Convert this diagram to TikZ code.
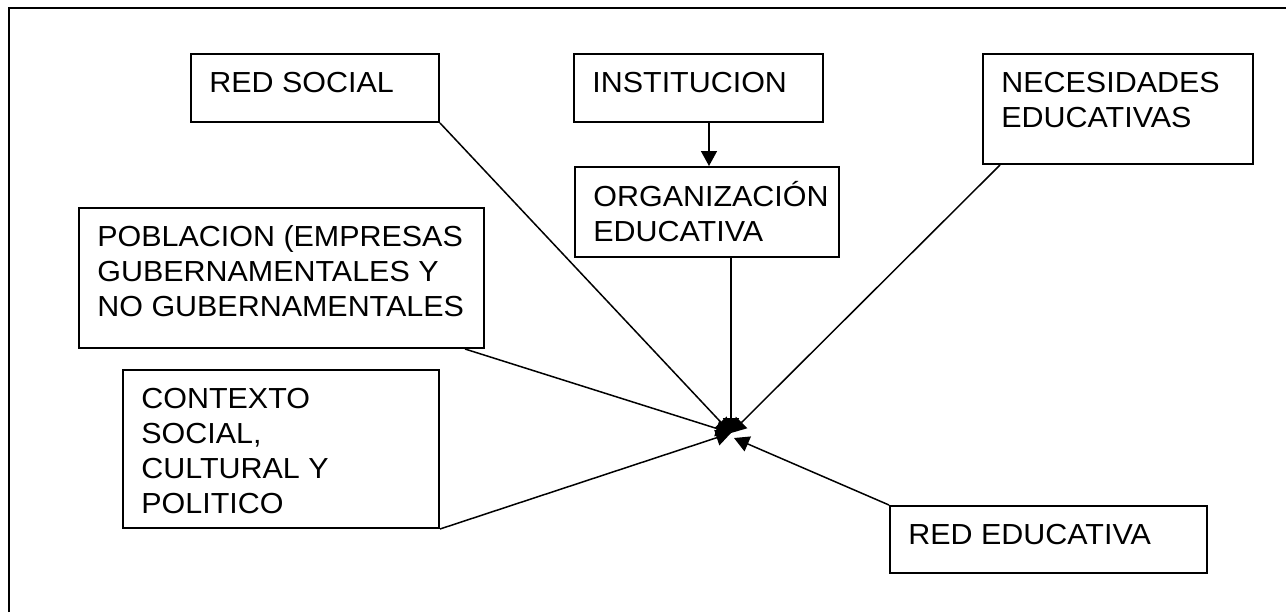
\documentclass[tikz,border=0pt]{standalone}
\usepackage{fontspec}
\setmainfont{Liberation Sans}[FakeStretch=1.05]
\usetikzlibrary{arrows.meta,calc}
\begin{document}
\begin{tikzpicture}[x=0.5pt,y=-0.5pt,
  box/.style={draw=black,line width=1pt,anchor=north west,inner sep=0pt},
  txt/.style={anchor=north west,inner sep=0pt,align=left,font=\fontsize{14.5}{17.5}\selectfont,xshift=9.5pt,yshift=-7.25pt},
  conn/.style={line width=0.75pt,-{Triangle[length=7.5pt,width=8pt]}}]
\useasboundingbox (0,0) rectangle (1286,612);
\draw[line width=1pt] (9,612) -- (9,8) -- (1286,8);
% boxes
\node[box,minimum width=124pt,minimum height=34pt] (rs) at (190,53) {};
\node[txt] (rst) at (rs.north west) {\strut RED SOCIAL};
\node[box,minimum width=124.5pt,minimum height=34pt] (inst) at (573,53) {};
\node[txt] (instt) at (inst.north west) {\strut INSTITUCION};
\node[box,minimum width=132pt,minimum height=45pt] (org) at (574,166) {};
\node[txt] (orgt) at (org.north west) {\strut ORGANIZACIÓN\\\strut EDUCATIVA};
\node[box,minimum width=135pt,minimum height=55pt] (nec) at (982,53) {};
\node[txt] (nect) at (nec.north west) {\strut NECESIDADES\\\strut EDUCATIVAS};
\node[box,minimum width=202.5pt,minimum height=70pt] (pob) at (78,207) {};
\node[txt] (pobt) at (pob.north west) {\strut POBLACION (EMPRESAS\\\strut GUBERNAMENTALES Y\\\strut NO GUBERNAMENTALES};
\node[box,minimum width=158pt,minimum height=79pt] (ctx) at (122,369) {};
\node[txt] (ctxt) at (ctx.north west) {\strut CONTEXTO\\\strut SOCIAL,\\\strut CULTURAL Y\\\strut POLITICO};
\node[box,minimum width=158.5pt,minimum height=33.5pt] (red) at (889,505) {};
\node[txt] (redt) at (red.north west) {\strut RED EDUCATIVA};
% hub
\coordinate (hub) at (731,433);
\coordinate (hubr) at (734,438);
% connectors
\draw[conn] (inst.south -| 709,0) -- (org.north -| 709,0);
\draw[conn] (rs.south east) -- (hub);
\draw[conn] (org.south -| hub) -- (hub);
\draw[conn] ($(nec.south west)+(18,0)$) -- (hub);
\draw[conn] ($(pob.south east)+(-20,0)$) -- (hub);
\draw[conn] (ctx.south east) -- (hub);
\draw[conn] (red.north west) -- (hubr);
\end{tikzpicture}
\end{document}
